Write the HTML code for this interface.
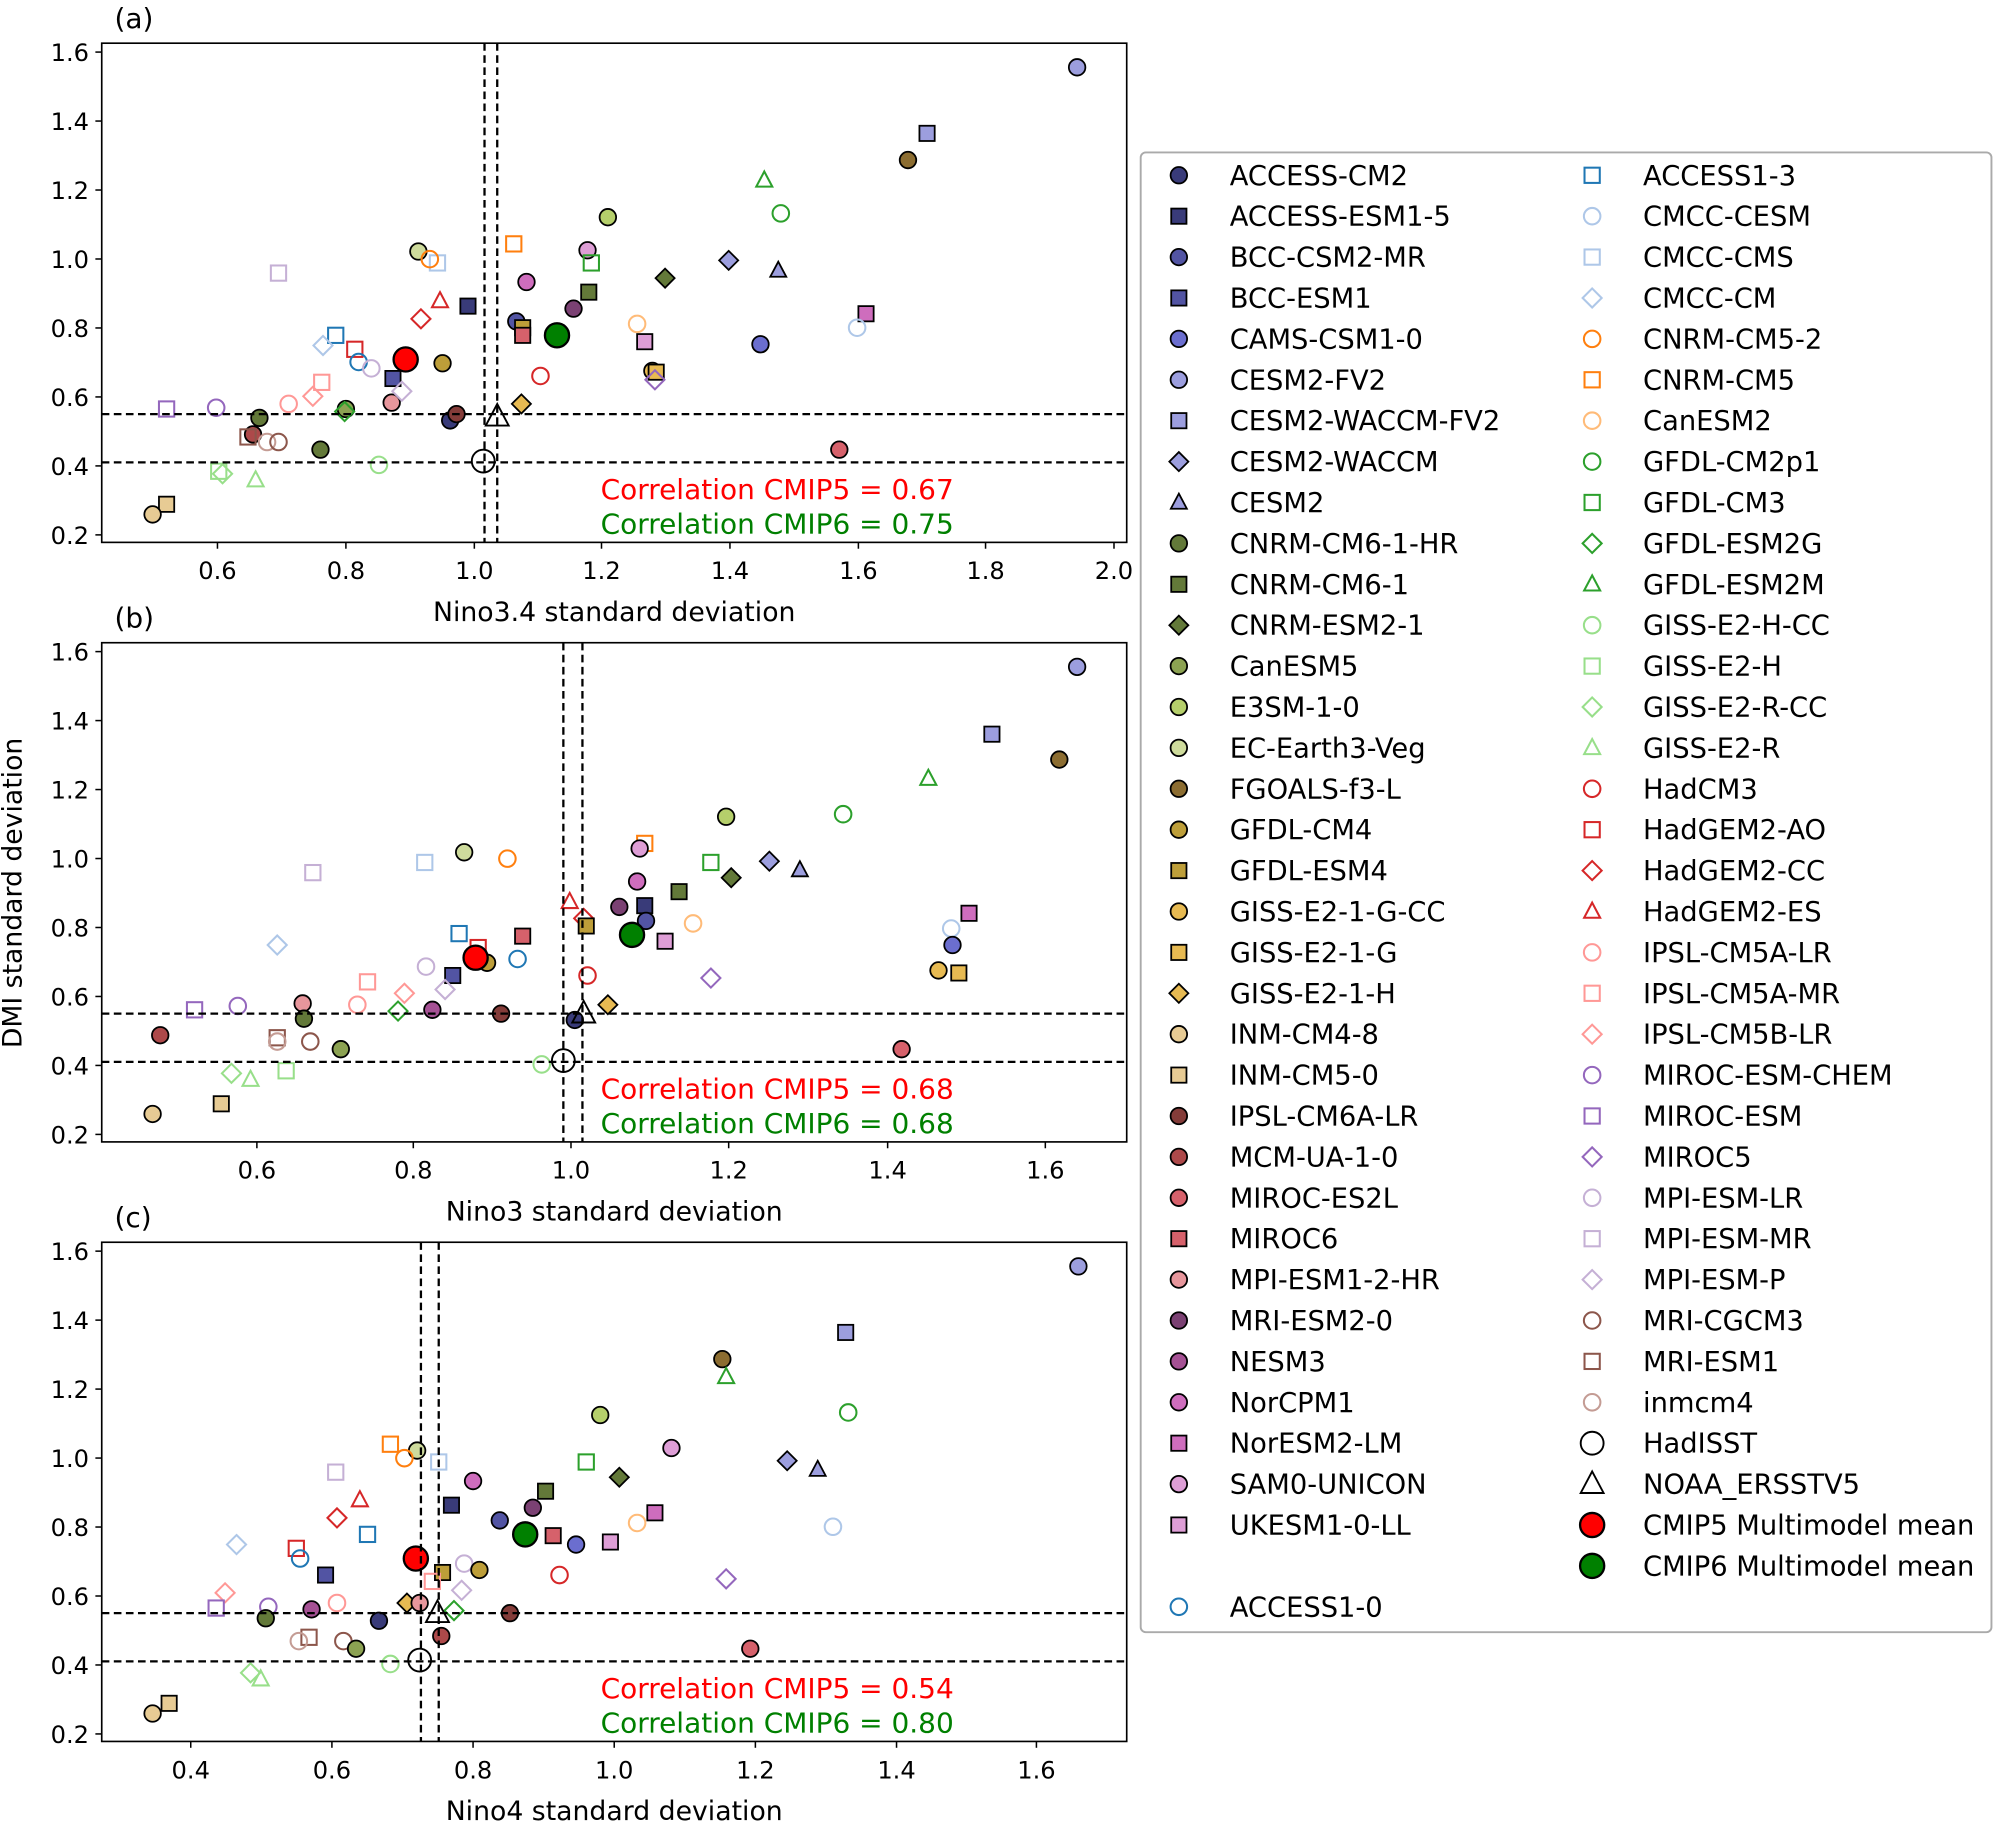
<!DOCTYPE html>
<html><head><meta charset="utf-8"><style>
html,body{margin:0;padding:0;background:#fff;}
svg{display:block;}
text{font-family:"DejaVu Sans","Liberation Sans",sans-serif;}
</style></head><body>
<svg id="s" width="1994" height="1824" viewBox="0 0 1568 1436" preserveAspectRatio="none" xmlns="http://www.w3.org/2000/svg"></svg>
<script>
const S=document.getElementById('s');let h='';
const M={
'ACCESS-CM2':['o','#393b79',1],'ACCESS-ESM1-5':['s','#393b79',1],'BCC-CSM2-MR':['o','#5254a3',1],'BCC-ESM1':['s','#5254a3',1],
'CAMS-CSM1-0':['o','#6b6ecf',1],'CESM2-FV2':['o','#9c9ede',1],'CESM2-WACCM-FV2':['s','#9c9ede',1],'CESM2-WACCM':['d','#9c9ede',1],
'CESM2':['t','#9c9ede',1],'CNRM-CM6-1-HR':['o','#637939',1],'CNRM-CM6-1':['s','#637939',1],'CNRM-ESM2-1':['d','#637939',1],
'CanESM5':['o','#8ca252',1],'E3SM-1-0':['o','#b5cf6b',1],'EC-Earth3-Veg':['o','#cedb9c',1],'FGOALS-f3-L':['o','#8c6d31',1],
'GFDL-CM4':['o','#bd9e39',1],'GFDL-ESM4':['s','#bd9e39',1],'GISS-E2-1-G-CC':['o','#e7ba52',1],'GISS-E2-1-G':['s','#e7ba52',1],
'GISS-E2-1-H':['d','#e7ba52',1],'INM-CM4-8':['o','#e7cb94',1],'INM-CM5-0':['s','#e7cb94',1],'IPSL-CM6A-LR':['o','#843c39',1],
'MCM-UA-1-0':['o','#ad494a',1],'MIROC-ES2L':['o','#d6616b',1],'MIROC6':['s','#d6616b',1],'MPI-ESM1-2-HR':['o','#e7969c',1],
'MRI-ESM2-0':['o','#7b4173',1],'NESM3':['o','#a55194',1],'NorCPM1':['o','#ce6dbd',1],'NorESM2-LM':['s','#ce6dbd',1],
'SAM0-UNICON':['o','#de9ed6',1],'UKESM1-0-LL':['s','#de9ed6',1],
'ACCESS1-0':['o','#1f77b4',0],'ACCESS1-3':['s','#1f77b4',0],'CMCC-CESM':['o','#aec7e8',0],'CMCC-CMS':['s','#aec7e8',0],'CMCC-CM':['d','#aec7e8',0],
'CNRM-CM5-2':['o','#ff7f0e',0],'CNRM-CM5':['s','#ff7f0e',0],'CanESM2':['o','#ffbb78',0],'GFDL-CM2p1':['o','#2ca02c',0],'GFDL-CM3':['s','#2ca02c',0],
'GFDL-ESM2G':['d','#2ca02c',0],'GFDL-ESM2M':['t','#2ca02c',0],'GISS-E2-H-CC':['o','#98df8a',0],'GISS-E2-H':['s','#98df8a',0],'GISS-E2-R-CC':['d','#98df8a',0],
'GISS-E2-R':['t','#98df8a',0],'HadCM3':['o','#d62728',0],'HadGEM2-AO':['s','#d62728',0],'HadGEM2-CC':['d','#d62728',0],'HadGEM2-ES':['t','#d62728',0],
'IPSL-CM5A-LR':['o','#ff9896',0],'IPSL-CM5A-MR':['s','#ff9896',0],'IPSL-CM5B-LR':['d','#ff9896',0],'MIROC-ESM-CHEM':['o','#9467bd',0],'MIROC-ESM':['s','#9467bd',0],
'MIROC5':['d','#9467bd',0],'MPI-ESM-LR':['o','#c5b0d5',0],'MPI-ESM-MR':['s','#c5b0d5',0],'MPI-ESM-P':['d','#c5b0d5',0],'MRI-CGCM3':['o','#8c564b',0],
'MRI-ESM1':['s','#8c564b',0],'inmcm4':['o','#c49c94',0],
'HadISST':['o','#000',2],'NOAA_ERSSTV5':['t','#000',2],'CMIP5 Multimodel mean':['O','#ff0000',1],'CMIP6 Multimodel mean':['O','#008000',1]};
function mk(x,y,n){const m=M[n];let t=m[0],c=m[1],f=m[2];
 let fill=f==1?c:'none',st=f==1?'#000':c,sw=f==1?1.4:1.6;
 if(f==2){sw=1.5;}
 let r=6.5;
 if(t=='O'){r=9.5;sw=1.8;t='o';}
 if(f==2&&t=='o')r=9;
 if(t=='o')return `<circle cx="${x}" cy="${y}" r="${r}" fill="${fill}" stroke="${st}" stroke-width="${sw}"/>`;
 if(t=='s')return `<rect x="${x-6}" y="${y-6}" width="12" height="12" fill="${fill}" stroke="${st}" stroke-width="${sw}"/>`;
 if(t=='d'){let d=7.5;return `<polygon points="${x},${y-d} ${x+d},${y} ${x},${y+d} ${x-d},${y}" fill="${fill}" stroke="${st}" stroke-width="${sw}"/>`;}
 if(t=='t'){let d=f==2?10:7;return `<polygon points="${x},${y-d} ${x+d*0.9},${y+d*0.7} ${x-d*0.9},${y+d*0.7}" fill="${fill}" stroke="${st}" stroke-width="${sw}"/>`;}
}
function panel(top,label,xt,xlab,vx,hy,pts,c5,c6){
 const L=80,R=886,T=top,B=top+393;
 h+=`<text x="90" y="${T-12}" font-size="22">${label}</text>`;
 h+=`<g>`;
 pts.forEach(p=>{h+=mk(p[0],p[1],p[2]);});
 h+=`</g>`;
 vx.forEach(v=>h+=`<line x1="${v}" y1="${T}" x2="${v}" y2="${B}" stroke="#000" stroke-width="1.8" stroke-dasharray="6,3.5"/>`);
 hy.forEach(v=>h+=`<line x1="${L}" y1="${v}" x2="${R}" y2="${v}" stroke="#000" stroke-width="1.8" stroke-dasharray="6,3.5"/>`);
 h+=`<rect x="${L}" y="${T}" width="${R-L}" height="${B-T}" fill="none" stroke="#000" stroke-width="1.3"/>`;
 for(let i=0;i<8;i++){let v=(1.6-i*0.2).toFixed(1);let y=T+7+i*54.3;
  h+=`<line x1="${L-5}" y1="${y}" x2="${L}" y2="${y}" stroke="#000" stroke-width="1.2"/><text x="${L-10}" y="${y+7}" font-size="19" text-anchor="end">${v}</text>`;}
 xt.forEach(t=>{h+=`<line x1="${t[0]}" y1="${B}" x2="${t[0]}" y2="${B+5}" stroke="#000" stroke-width="1.2"/><text x="${t[0]}" y="${B+29}" font-size="19" text-anchor="middle">${t[1]}</text>`;});
 h+=`<text x="483" y="${B+62}" font-size="21" text-anchor="middle">${xlab}</text>`;
 h+=`<text x="750" y="${B-34}" font-size="22" fill="#ff0000" text-anchor="end">Correlation CMIP5 = ${c5}</text>`;
 h+=`<text x="750" y="${B-7}" font-size="22" fill="#008000" text-anchor="end">Correlation CMIP6 = ${c6}</text>`;
}
const A=[[847,53,'CESM2-FV2'],[729,105,'CESM2-WACCM-FV2'],[714,126,'FGOALS-f3-L'],[601,142,'GFDL-ESM2M'],[614,168,'GFDL-CM2p1'],[478,171,'E3SM-1-0'],[329,198,'EC-Earth3-Veg'],[344,207,'CMCC-CMS'],[338,204,'CNRM-CM5-2'],[404,192,'CNRM-CM5'],[462,197,'SAM0-UNICON'],[465,207,'GFDL-CM3'],[573,205,'CESM2-WACCM'],[612,213,'CESM2'],[523,219,'CNRM-ESM2-1'],[219,215,'MPI-ESM-MR'],[414,222,'NorCPM1'],[463,230,'CNRM-CM6-1'],[451,243,'MRI-ESM2-0'],[368,241,'ACCESS-ESM1-5'],[346,237,'HadGEM2-ES'],[331,251,'HadGEM2-CC'],[406,253,'BCC-CSM2-MR'],[411,258,'GFDL-ESM4'],[411,264,'MIROC6'],[438,264,'CMIP6 Multimodel mean'],[501,255,'CanESM2'],[681,247,'NorESM2-LM'],[674,258,'CMCC-CESM'],[598,271,'CAMS-CSM1-0'],[264,264,'ACCESS1-3'],[254,272,'CMCC-CM'],[279,275,'HadGEM2-AO'],[507,269,'UKESM1-0-LL'],[282,285,'ACCESS1-0'],[319,283,'CMIP5 Multimodel mean'],[292,290,'MPI-ESM-LR'],[348,286,'GFDL-CM4'],[425,296,'HadCM3'],[513,292,'GISS-E2-1-G-CC'],[516,293,'GISS-E2-1-G'],[515,299,'MIROC5'],[309,298,'BCC-ESM1'],[253,301,'IPSL-CM5A-MR'],[246,312,'IPSL-CM5B-LR'],[227,318,'IPSL-CM5A-LR'],[308,317,'MPI-ESM1-2-HR'],[316,308,'MPI-ESM-P'],[131,322,'MIROC-ESM'],[170,321,'MIROC-ESM-CHEM'],[272,322,'CanESM5'],[271,324,'GFDL-ESM2G'],[204,329,'CNRM-CM6-1-HR'],[354,331,'ACCESS-CM2'],[359,326,'IPSL-CM6A-LR'],[410,318,'GISS-E2-1-H'],[391,328,'NOAA_ERSSTV5'],[199,342,'MCM-UA-1-0'],[195,344,'MRI-ESM1'],[210,348,'inmcm4'],[219,348,'MRI-CGCM3'],[252,354,'CNRM-CM6-1-HR'],[298,366,'GISS-E2-H-CC'],[172,371,'GISS-E2-H'],[175,373,'GISS-E2-R-CC'],[201,378,'GISS-E2-R'],[380,363,'HadISST'],[131,397,'INM-CM5-0'],[120,405,'INM-CM4-8'],[660,354,'MIROC-ES2L']];
const B=[[847,525,'CESM2-FV2'],[780,578,'CESM2-WACCM-FV2'],[833,598,'FGOALS-f3-L'],[730,613,'GFDL-ESM2M'],[663,641,'GFDL-CM2p1'],[571,643,'E3SM-1-0'],[365,671,'EC-Earth3-Veg'],[399,676,'CNRM-CM5-2'],[334,679,'CMCC-CMS'],[246,687,'MPI-ESM-MR'],[507,664,'CNRM-CM5'],[503,668,'SAM0-UNICON'],[559,679,'GFDL-CM3'],[605,678,'CESM2-WACCM'],[629,685,'CESM2'],[575,691,'CNRM-ESM2-1'],[534,702,'CNRM-CM6-1'],[762,719,'NorESM2-LM'],[748,731,'CMCC-CESM'],[501,694,'NorCPM1'],[487,714,'MRI-ESM2-0'],[507,713,'ACCESS-ESM1-5'],[448,710,'HadGEM2-ES'],[459,723,'HadGEM2-CC'],[461,729,'GFDL-ESM4'],[508,725,'BCC-CSM2-MR'],[545,727,'CanESM2'],[497,736,'CMIP6 Multimodel mean'],[523,741,'UKESM1-0-LL'],[361,735,'ACCESS1-3'],[218,744,'CMCC-CM'],[411,737,'MIROC6'],[376,746,'HadGEM2-AO'],[383,758,'GFDL-CM4'],[374,754,'CMIP5 Multimodel mean'],[407,755,'ACCESS1-0'],[749,744,'CAMS-CSM1-0'],[738,764,'GISS-E2-1-G-CC'],[754,766,'GISS-E2-1-G'],[356,768,'BCC-ESM1'],[462,768,'HadCM3'],[559,770,'MIROC5'],[335,761,'MPI-ESM-LR'],[289,773,'IPSL-CM5A-MR'],[238,790,'MPI-ESM1-2-HR'],[281,791,'IPSL-CM5A-LR'],[318,782,'IPSL-CM5B-LR'],[350,779,'MPI-ESM-P'],[153,795,'MIROC-ESM'],[187,792,'MIROC-ESM-CHEM'],[239,802,'CNRM-CM6-1-HR'],[313,796,'GFDL-ESM2G'],[340,795,'NESM3'],[394,798,'IPSL-CM6A-LR'],[452,803,'ACCESS-CM2'],[459,798,'NOAA_ERSSTV5'],[478,791,'GISS-E2-1-H'],[126,815,'MCM-UA-1-0'],[218,817,'MRI-ESM1'],[218,820,'inmcm4'],[244,820,'MRI-CGCM3'],[268,826,'CanESM5'],[426,838,'GISS-E2-H-CC'],[443,835,'HadISST'],[182,845,'GISS-E2-R-CC'],[197,850,'GISS-E2-R'],[225,843,'GISS-E2-H'],[709,826,'MIROC-ES2L'],[120,877,'INM-CM4-8'],[174,869,'INM-CM5-0']];
const C=[[848,997,'CESM2-FV2'],[665,1049,'CESM2-WACCM-FV2'],[568,1070,'FGOALS-f3-L'],[571,1084,'GFDL-ESM2M'],[667,1112,'GFDL-CM2p1'],[472,1114,'E3SM-1-0'],[328,1142,'EC-Earth3-Veg'],[307,1137,'CNRM-CM5'],[318,1148,'CNRM-CM5-2'],[345,1151,'CMCC-CMS'],[264,1159,'MPI-ESM-MR'],[528,1140,'SAM0-UNICON'],[461,1151,'GFDL-CM3'],[487,1163,'CNRM-ESM2-1'],[619,1150,'CESM2-WACCM'],[643,1157,'CESM2'],[372,1166,'NorCPM1'],[429,1174,'CNRM-CM6-1'],[283,1181,'HadGEM2-ES'],[355,1185,'ACCESS-ESM1-5'],[515,1191,'NorESM2-LM'],[501,1199,'CanESM2'],[655,1202,'CMCC-CESM'],[393,1197,'BCC-CSM2-MR'],[419,1187,'MRI-ESM2-0'],[265,1195,'HadGEM2-CC'],[289,1208,'ACCESS1-3'],[435,1209,'MIROC6'],[413,1208,'CMIP6 Multimodel mean'],[453,1216,'CAMS-CSM1-0'],[480,1214,'UKESM1-0-LL'],[186,1216,'CMCC-CM'],[233,1219,'HadGEM2-AO'],[236,1227,'ACCESS1-0'],[327,1227,'CMIP5 Multimodel mean'],[256,1240,'BCC-ESM1'],[365,1231,'MPI-ESM-LR'],[377,1236,'GFDL-CM4'],[348,1238,'GFDL-ESM4'],[340,1245,'IPSL-CM5A-MR'],[440,1240,'HadCM3'],[571,1243,'MIROC5'],[363,1252,'MPI-ESM-P'],[177,1254,'IPSL-CM5B-LR'],[170,1266,'MIROC-ESM'],[211,1265,'MIROC-ESM-CHEM'],[265,1262,'IPSL-CM5A-LR'],[245,1267,'NESM3'],[320,1262,'GISS-E2-1-H'],[330,1262,'MPI-ESM1-2-HR'],[298,1276,'ACCESS-CM2'],[209,1274,'CNRM-CM6-1-HR'],[401,1270,'IPSL-CM6A-LR'],[357,1268,'GFDL-ESM2G'],[344,1270,'NOAA_ERSSTV5'],[347,1288,'MCM-UA-1-0'],[243,1289,'MRI-ESM1'],[235,1292,'inmcm4'],[270,1292,'MRI-CGCM3'],[280,1298,'CanESM5'],[307,1310,'GISS-E2-H-CC'],[330,1307,'HadISST'],[197,1317,'GISS-E2-R-CC'],[205,1322,'GISS-E2-R'],[590,1298,'MIROC-ES2L'],[120,1349,'INM-CM4-8'],[133,1341,'INM-CM5-0']];
panel(34,'(a)',[[171,'0.6'],[272,'0.8'],[373,'1.0'],[473,'1.2'],[574,'1.4'],[675,'1.6'],[775,'1.8'],[876,'2.0']],'Nino3.4 standard deviation',[381,391],[326,364],A,'0.67','0.75');
panel(506,'(b)',[[202,'0.6'],[325,'0.8'],[449,'1.0'],[573,'1.2'],[698,'1.4'],[822,'1.6']],'Nino3 standard deviation',[443,458],[798,836],B,'0.68','0.68');
panel(978,'(c)',[[150,'0.4'],[261,'0.6'],[372,'0.8'],[483,'1.0'],[594,'1.2'],[705,'1.4'],[815,'1.6']],'Nino4 standard deviation',[331,345],[1270,1308],C,'0.54','0.80');
h+=`<text transform="translate(17,703) rotate(-90)" font-size="21" text-anchor="middle">DMI standard deviation</text>`;
h+=`<rect x="897" y="120" width="669" height="1165" rx="4" fill="#fff" stroke="#aaa" stroke-width="1.5"/>`;
const c1=['ACCESS-CM2','ACCESS-ESM1-5','BCC-CSM2-MR','BCC-ESM1','CAMS-CSM1-0','CESM2-FV2','CESM2-WACCM-FV2','CESM2-WACCM','CESM2','CNRM-CM6-1-HR','CNRM-CM6-1','CNRM-ESM2-1','CanESM5','E3SM-1-0','EC-Earth3-Veg','FGOALS-f3-L','GFDL-CM4','GFDL-ESM4','GISS-E2-1-G-CC','GISS-E2-1-G','GISS-E2-1-H','INM-CM4-8','INM-CM5-0','IPSL-CM6A-LR','MCM-UA-1-0','MIROC-ES2L','MIROC6','MPI-ESM1-2-HR','MRI-ESM2-0','NESM3','NorCPM1','NorESM2-LM','SAM0-UNICON','UKESM1-0-LL','','ACCESS1-0'];
const c2=['ACCESS1-3','CMCC-CESM','CMCC-CMS','CMCC-CM','CNRM-CM5-2','CNRM-CM5','CanESM2','GFDL-CM2p1','GFDL-CM3','GFDL-ESM2G','GFDL-ESM2M','GISS-E2-H-CC','GISS-E2-H','GISS-E2-R-CC','GISS-E2-R','HadCM3','HadGEM2-AO','HadGEM2-CC','HadGEM2-ES','IPSL-CM5A-LR','IPSL-CM5A-MR','IPSL-CM5B-LR','MIROC-ESM-CHEM','MIROC-ESM','MIROC5','MPI-ESM-LR','MPI-ESM-MR','MPI-ESM-P','MRI-CGCM3','MRI-ESM1','inmcm4','HadISST','NOAA_ERSSTV5','CMIP5 Multimodel mean','CMIP6 Multimodel mean'];
function col(arr,mx,tx){arr.forEach((n,i)=>{if(!n)return;let y=138+i*32.2;h+=mk(mx,y,n);h+=`<text x="${tx}" y="${y+7.5}" font-size="21.5">${n}</text>`;});}
col(c1,927,967);col(c2,1252,1292);
S.innerHTML=h;
</script>
</body></html>
